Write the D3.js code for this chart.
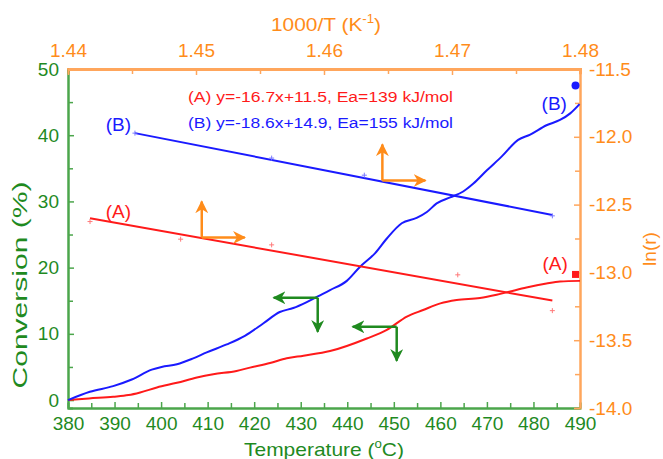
<!DOCTYPE html>
<html>
<head>
<meta charset="utf-8">
<script src="https://cdn.jsdelivr.net/npm/d3@7"></script>
<style>
  body { margin: 0; background: #fff; }
  svg text { font-family: "Liberation Sans", Arial, sans-serif; }
</style>
</head>
<body>
<svg id="chart" width="663" height="459"></svg>
<script>
// conversion curves, bottom/left axes
const tempA = [380, 384.5, 389.7, 393, 395.5, 399.1, 403.4, 407.7, 411.2, 416.2, 419.1, 423.4, 427, 430.6, 436.3, 444.2, 448.5, 452.8, 456.3, 460, 463.5, 468.5, 472.1, 475, 478.5, 482.8, 485.7, 490];
const convA = [0, 0.25, 0.5, 0.75, 1.15, 1.9, 2.6, 3.4, 3.9, 4.4, 4.9, 5.6, 6.3, 6.7, 7.4, 9.3, 10.6, 12.6, 13.6, 14.6, 15.1, 15.4, 15.9, 16.4, 17.0, 17.6, 17.9, 18.0];
const tempB = [380, 384.7, 389.7, 393.7, 398, 400.1, 403.4, 406.9, 409.8, 414.1, 418, 422, 425.5, 428.4, 431.3, 433.8, 436.3, 439.9, 442.7, 446, 448.5, 451.7, 454.9, 457.1, 459.2, 462.1, 464.9, 467.1, 470, 473.2, 476.7, 479.3, 482.8, 485.7, 487.9, 489.9];
const convB = [0, 1.25, 2.1, 3.1, 4.6, 5.0, 5.4, 6.3, 7.2, 8.4, 9.7, 11.6, 13.3, 13.9, 14.8, 15.7, 16.6, 18.0, 20.1, 22.2, 24.4, 26.7, 27.5, 28.4, 29.7, 30.6, 31.5, 32.7, 34.7, 36.8, 39.3, 40.1, 41.5, 42.3, 43.3, 44.7];

// Arrhenius points, top/right axes
const invTA = [1.44172, 1.4488, 1.45591, 1.47045, 1.47784];
const lnrA = [-12.625, -12.755, -12.797, -13.018, -13.282];
const invTB = [1.44523, 1.45591, 1.46315, 1.47784];
const lnrB = [-11.973, -12.157, -12.283, -12.583];

// fitted lines (end points)
const fitXA = [1.44172, 1.47784], fitYA = [-12.600, -13.208];
const fitXB = [1.44523, 1.47784], fitYB = [-11.973, -12.576];
const fitTexts = ["(A) y=-16.7x+11.5, Ea=139 kJ/mol", "(B) y=-18.6x+14.9, Ea=155 kJ/mol"];

// single marked points at the right edge
const pointA = [1.47965, -13.015], pointB = [1.47965, -11.621];

// series labels, top/right coordinates
const seriesLabels = [
  { t: "(B)", x: 1.44393, y: -11.911, c: "B" },
  { t: "(A)", x: 1.44393, y: -12.551, c: "A" },
  { t: "(B)", x: 1.47799, y: -11.756, c: "B" },
  { t: "(A)", x: 1.47805, y: -12.932, c: "A" }
];

// arrow corners: orange ones on the top/right axes, green ones on bottom/left
const arrowsTop = [[1.45045, -12.743], [1.46456, -12.322]];
const arrowsBottom = [[433.65, 15.45], [450.62, 11.07]];

// ticks
const tempTicks = [380, 390, 400, 410, 420, 430, 440, 450, 460, 470, 480, 490];
const tempMinor = [385, 395, 405, 415, 425, 435, 445, 455, 465, 475, 485];
const convTicks = [0, 10, 20, 30, 40, 50];
const convMinor = [5, 15, 25, 35, 45];
const invTTicks = [1.44, 1.45, 1.46, 1.47, 1.48];
const invTMinor = [1.445, 1.455, 1.465, 1.475];
const lnrTicks = [-14.0, -13.5, -13.0, -12.5, -12.0, -11.5];
const lnrMinor = [-13.75, -13.25, -12.75, -12.25, -11.75];

const green = "#1f8a1f", greenLine = "#4ca64c";
const orange = "#ff8c1a", orangeLine = "#ffa65c";
const red = "#ff1a1a", blue = "#1a1aff";

const margin = { top: 69, right: 83, bottom: 51, left: 68 };
const svg = d3.select("#chart");
const width = 663 - margin.left - margin.right;
const height = 459 - margin.top - margin.bottom;

const x = d3.scaleLinear().domain([380, 490]).range([0, width]);
const y = d3.scaleLinear().domain([-1.2, 50]).range([height, 0]);
const xT = d3.scaleLinear().domain([1.44, 1.48]).range([0, width]);
const yR = d3.scaleLinear().domain([-14, -11.5]).range([height, 0]);

const g = svg.append("g").attr("transform", `translate(${margin.left},${margin.top})`);

const defs = svg.append("defs");
[["headOrange", orange], ["headGreen", green]].forEach(([id, c]) => {
  defs.append("marker")
    .attr("id", id)
    .attr("viewBox", "0 -5 10 10")
    .attr("refX", 9)
    .attr("refY", 0)
    .attr("markerUnits", "userSpaceOnUse")
    .attr("markerWidth", 13)
    .attr("markerHeight", 13)
    .attr("orient", "auto")
    .append("path")
    .attr("d", "M0,-5L10,0L0,5L3,0Z")
    .attr("fill", c);
});

function styleAxis(sel, textColor, lineColor, lw) {
  sel.select(".domain").attr("stroke", lineColor).attr("stroke-width", lw);
  sel.selectAll(".tick line").attr("stroke", lineColor).attr("stroke-width", 1.5);
  sel.selectAll("text").attr("fill", textColor).attr("font-size", 19);
}

// minor ticks first, major axes on top
g.append("g").attr("transform", `translate(0,${height})`)
  .call(d3.axisBottom(x).tickValues(tempMinor).tickSize(-5).tickFormat(""))
  .call(s => styleAxis(s, green, greenLine, 2));
g.append("g").call(d3.axisLeft(y).tickValues(convMinor).tickSize(-5).tickFormat(""))
  .call(s => styleAxis(s, green, greenLine, 2));
g.append("g").call(d3.axisTop(xT).tickValues(invTMinor).tickSize(-5).tickFormat(""))
  .call(s => styleAxis(s, orange, orangeLine, 3));
g.append("g").attr("transform", `translate(${width},0)`)
  .call(d3.axisRight(yR).tickValues(lnrMinor).tickSize(-5).tickFormat(""))
  .call(s => styleAxis(s, orange, orangeLine, 2));

g.append("g").attr("transform", `translate(0,${height})`)
  .call(d3.axisBottom(x).tickValues(tempTicks).tickSize(-6).tickSizeOuter(0).tickPadding(9).tickFormat(d3.format("d")))
  .call(s => styleAxis(s, green, greenLine, 2));
g.append("g")
  .call(d3.axisLeft(y).tickValues(convTicks).tickSize(-6).tickSizeOuter(0).tickPadding(9).tickFormat(d3.format("d")))
  .call(s => styleAxis(s, green, greenLine, 2));
g.append("g")
  .call(d3.axisTop(xT).tickValues(invTTicks).tickSize(-6).tickSizeOuter(0).tickPadding(12).tickFormat(d => d.toFixed(2)))
  .call(s => styleAxis(s, orange, orangeLine, 3));
g.append("g").attr("transform", `translate(${width},0)`)
  .call(d3.axisRight(yR).tickValues(lnrTicks).tickSize(-6).tickSizeOuter(0).tickPadding(9).tickFormat(d => d.toFixed(1)))
  .call(s => styleAxis(s, orange, orangeLine, 2));

// axis titles
svg.append("text")
  .attr("x", margin.left + width / 2).attr("y", 456)
  .attr("text-anchor", "middle").attr("fill", green).attr("font-size", 19)
  .attr("textLength", 160).attr("lengthAdjust", "spacingAndGlyphs")
  .call(t => {
    t.append("tspan").text("Temperature (");
    t.append("tspan").attr("dy", -8).attr("font-size", 12).text("o");
    t.append("tspan").attr("dy", 8).text("C)");
  });
svg.append("text")
  .attr("x", margin.left + width / 2 + 2).attr("y", 31)
  .attr("text-anchor", "middle").attr("fill", orange).attr("font-size", 19)
  .attr("textLength", 110).attr("lengthAdjust", "spacingAndGlyphs")
  .call(t => {
    t.append("tspan").text("1000/T (K");
    t.append("tspan").attr("dy", -8).attr("font-size", 12).text("-1");
    t.append("tspan").attr("dy", 8).text(")");
  });
svg.append("text")
  .attr("transform", "translate(27,285) rotate(-90)")
  .attr("text-anchor", "middle").attr("fill", green).attr("font-size", 20)
  .attr("textLength", 207).attr("lengthAdjust", "spacingAndGlyphs")
  .text("Conversion (%)");
svg.append("text")
  .attr("transform", "translate(656,249) rotate(-90)")
  .attr("text-anchor", "middle").attr("fill", orange).attr("font-size", 19)
  .text("ln(r)");

// conversion curves
const curve = d3.line().x(d => x(d[0])).y(d => y(d[1])).curve(d3.curveMonotoneX);
g.append("path").datum(d3.zip(tempA, convA))
  .attr("d", curve).attr("fill", "none").attr("stroke", red).attr("stroke-width", 2);
g.append("path").datum(d3.zip(tempB, convB))
  .attr("d", curve).attr("fill", "none").attr("stroke", blue).attr("stroke-width", 2);

// fitted lines
const fitLine = d3.line().x(d => xT(d[0])).y(d => yR(d[1]));
g.append("path").datum(d3.zip(fitXA, fitYA))
  .attr("d", fitLine).attr("fill", "none").attr("stroke", red).attr("stroke-width", 2);
g.append("path").datum(d3.zip(fitXB, fitYB))
  .attr("d", fitLine).attr("fill", "none").attr("stroke", blue).attr("stroke-width", 2);

// measured ln(r) points, small crosses
const crossPath = "M-2.5,0H2.5M0,-2.5V2.5";
g.selectAll(".ptA").data(d3.zip(invTA, lnrA)).enter().append("path")
  .attr("class", "ptA")
  .attr("transform", d => `translate(${xT(d[0])},${yR(d[1])})`)
  .attr("d", crossPath).attr("stroke", "#ff7a7a").attr("stroke-width", 1);
g.selectAll(".ptB").data(d3.zip(invTB, lnrB)).enter().append("path")
  .attr("class", "ptB")
  .attr("transform", d => `translate(${xT(d[0])},${yR(d[1])})`)
  .attr("d", crossPath).attr("stroke", "#7a7aff").attr("stroke-width", 1);

// edge markers
g.append("circle")
  .attr("cx", xT(pointB[0])).attr("cy", yR(pointB[1])).attr("r", 4)
  .attr("fill", blue);
g.append("rect")
  .attr("x", xT(pointA[0]) - 3.5).attr("y", yR(pointA[1]) - 3.5)
  .attr("width", 7).attr("height", 7)
  .attr("fill", red);

// series labels
g.selectAll(".slabel").data(seriesLabels).enter().append("text")
  .attr("class", "slabel")
  .attr("x", d => xT(d.x)).attr("y", d => yR(d.y))
  .attr("dy", "0.35em")
  .attr("text-anchor", "middle")
  .attr("font-size", 19)
  .attr("fill", d => d.c === "A" ? red : blue)
  .text(d => d.t);

// equations
svg.selectAll(".eq").data(fitTexts).enter().append("text")
  .attr("class", "eq")
  .attr("x", 188)
  .attr("y", (d, i) => 102 + i * 25.5)
  .attr("font-size", 14)
  .attr("textLength", 265).attr("lengthAdjust", "spacingAndGlyphs")
  .attr("fill", (d, i) => i === 0 ? red : blue)
  .text(d => d);

// arrows: orange point up and right, green point left and down
arrowsTop.forEach(a => {
  const cx = xT(a[0]), cy = yR(a[1]);
  g.append("line").attr("x1", cx).attr("y1", cy).attr("x2", cx).attr("y2", cy - 36)
    .attr("stroke", orange).attr("stroke-width", 2.5).attr("marker-end", "url(#headOrange)");
  g.append("line").attr("x1", cx).attr("y1", cy).attr("x2", cx + 43).attr("y2", cy)
    .attr("stroke", orange).attr("stroke-width", 2.5).attr("marker-end", "url(#headOrange)");
});
arrowsBottom.forEach(a => {
  const cx = x(a[0]), cy = y(a[1]);
  g.append("line").attr("x1", cx).attr("y1", cy).attr("x2", cx - 44).attr("y2", cy)
    .attr("stroke", green).attr("stroke-width", 2.5).attr("marker-end", "url(#headGreen)");
  g.append("line").attr("x1", cx).attr("y1", cy).attr("x2", cx).attr("y2", cy + 34)
    .attr("stroke", green).attr("stroke-width", 2.5).attr("marker-end", "url(#headGreen)");
});
</script>
</body>
</html>
